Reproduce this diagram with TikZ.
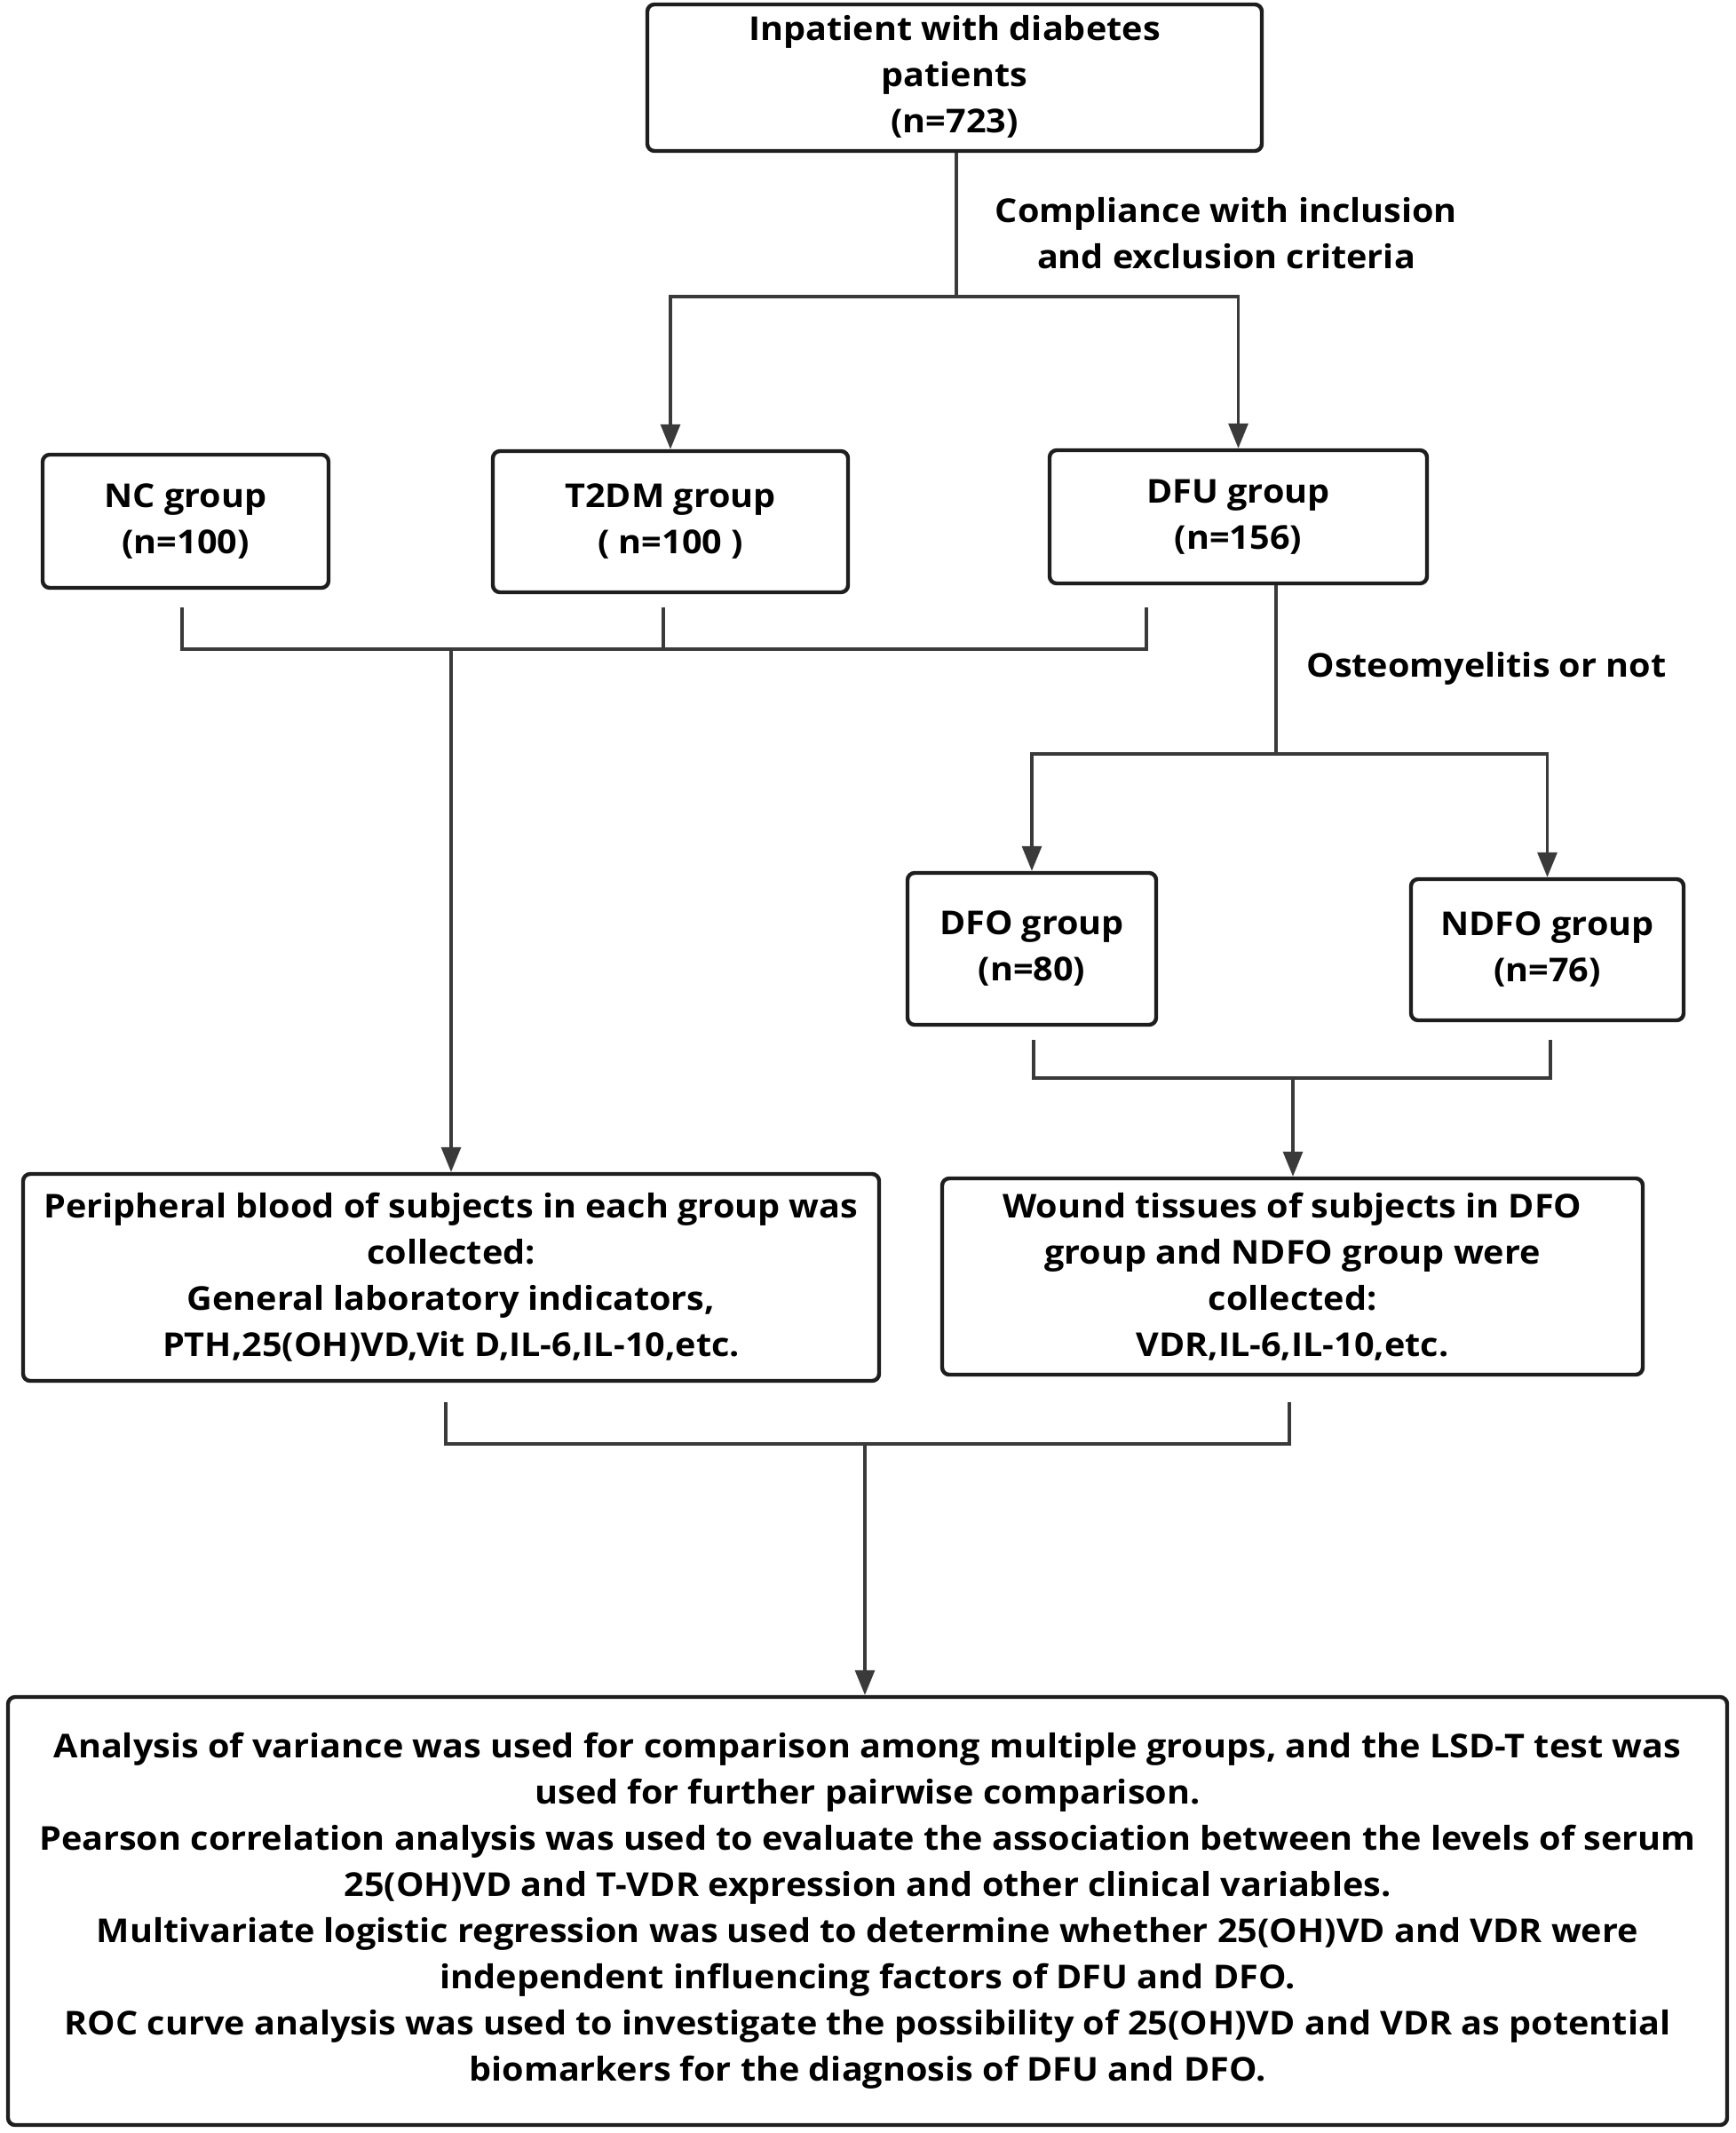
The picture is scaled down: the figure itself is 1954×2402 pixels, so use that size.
\documentclass[tikz,border=0pt]{standalone}
\usepackage{fontspec}
\setmainfont[FakeStretch=1.07]{Open Sans}
\usetikzlibrary{arrows.meta}
\definecolor{lnc}{HTML}{3A3A3A}
\definecolor{bxc}{HTML}{1E1E1E}
\tikzset{
  box/.style={draw=bxc, line width=2.2pt, rounded corners=4pt, fill=white,
    align=center, inner sep=0pt, font=\fontsize{18.5}{26}\selectfont\bfseries},
  conn/.style={draw=lnc, line width=1.6pt},
  arr/.style={conn, -{Triangle[length=14pt,width=11pt]}},
  lbl/.style={align=center, font=\fontsize{18.5}{26}\selectfont\bfseries, inner sep=0pt}
}
\begin{document}
\begin{tikzpicture}[x=0.5pt,y=-0.5pt]
\useasboundingbox (0,0) rectangle (1954,2402);
% boxes
\node[box, minimum width=346pt, minimum height=82.5pt] (top) at (1075,87.5) {\raisebox{-3pt}{\begin{tabular}{@{}c@{}}Inpatient with diabetes\\patients\\(n=723)\end{tabular}}};
\node[box, minimum width=161pt, minimum height=75pt] (nc) at (209,587) {NC group\\(n=100)};
\node[box, minimum width=200pt, minimum height=79.5pt] (t2dm) at (755,587.5) {T2DM group\\( n=100 )};
\node[box, minimum width=212.5pt, minimum height=75pt] (dfu) at (1394.5,582) {DFU group\\(n=156)};
\node[box, minimum width=140pt, minimum height=85.5pt] (dfo) at (1162,1068.5) {DFO group\\(n=80)};
\node[box, minimum width=153.5pt, minimum height=79.5pt] (ndfo) at (1742.5,1069.5) {NDFO group\\(n=76)};
\node[box, minimum width=482pt, minimum height=116.5pt] (blood) at (508,1438.5) {Peripheral blood of subjects in each group was\\collected:\\General laboratory indicators,\\PTH,25(OH)VD,Vit D,IL-6,IL-10,etc.};
\node[box, minimum width=394.5pt, minimum height=110.5pt] (wound) at (1455.5,1437.5) {Wound tissues of subjects in DFO\\group and NDFO group were\\collected:\\VDR,IL-6,IL-10,etc.};
\node[box, minimum width=968pt, minimum height=241pt] (final) at (977,2152) {Analysis of variance was used for comparison among multiple groups, and the LSD-T test was\\used for further pairwise comparison.\\Pearson correlation analysis was used to evaluate the association between the levels of serum\\25(OH)VD and T-VDR expression and other clinical variables.\\Multivariate logistic regression was used to determine whether 25(OH)VD and VDR were\\independent influencing factors of DFU and DFO.\\ROC curve analysis was used to investigate the possibility of 25(OH)VD and VDR as potential\\biomarkers for the diagnosis of DFU and DFO.};
% labels
\node[lbl] (crit) at (1381,263) {Compliance with inclusion\\and exclusion criteria};
\node[lbl] (osteo) at (1674,753) {Osteomyelitis or not};
% split 1
\coordinate (s1) at (1077,334);
\draw[conn] (top.south -| s1) -- (s1);
\draw[arr] (s1) -| (t2dm.north);
\draw[arr] (s1) -| (dfu.north);
% merge 1
\coordinate (m1a) at (205,684);
\coordinate (m1b) at (747,684);
\coordinate (m1c) at (1291,684);
\coordinate (m1) at (508,731);
\draw[conn] (m1a) |- (m1c |- m1) -- (m1c);
\draw[conn] (m1b) -- (m1b |- m1);
\draw[arr] (m1) -- (blood.north);
% split 2
\coordinate (s2) at (1437,849);
\draw[conn] (s2 |- dfu.south) -- (s2);
\draw[arr] (s2) -| (dfo.north);
\draw[arr] (s2) -| (ndfo.north);
% merge 2
\coordinate (m2a) at (1164,1171);
\coordinate (m2b) at (1746,1171);
\coordinate (m2) at (1456,1214);
\draw[conn] (m2a) |- (m2b |- m2) -- (m2b);
\draw[arr] (m2) -- (wound.north -| m2);
% merge 3
\coordinate (m3a) at (502,1579);
\coordinate (m3b) at (1452,1579);
\coordinate (m3) at (974,1626);
\draw[conn] (m3a) |- (m3b |- m3) -- (m3b);
\draw[arr] (m3) -- (final.north -| m3);
\end{tikzpicture}
\end{document}
